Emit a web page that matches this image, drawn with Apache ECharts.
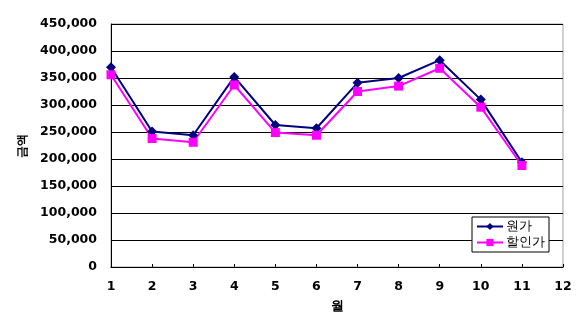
<!DOCTYPE html>
<html><head><meta charset="utf-8">
<script src="https://cdn.jsdelivr.net/npm/echarts@6/dist/echarts.min.js"></script>
<style>html,body{margin:0;padding:0;background:#fff}#c{width:580px;height:331px}</style>
</head><body><div id="c"></div>
<script>
const months = [1,2,3,4,5,6,7,8,9,10,11];
const costPrice = [370000,251000,244000,352000,263000,257000,341000,350000,383000,310000,194000];
const salePrice = [356000,238000,231000,337000,249000,244000,325000,335000,368000,296000,188000];
const seriesNames = ['원가','할인가'];
const xTitle = '월';
const yTitle = '금액';

const font = 'DejaVu Sans';
const chart = echarts.init(document.getElementById('c'), null, {renderer:'canvas'});
chart.setOption({
  animation:false,
  backgroundColor:'#fff',
  grid:{left:111,right:17,top:24,bottom:64,show:true,borderColor:'#a0a0a0',borderWidth:1,backgroundColor:'transparent'},
  xAxis:{type:'value',min:1,max:12,interval:1,
    name:xTitle,nameLocation:'middle',nameGap:33,
    nameTextStyle:{fontFamily:font,fontSize:13,fontWeight:'bold',color:'#000'},
    axisLine:{lineStyle:{color:'#000',width:1}},
    axisTick:{show:true,inside:true,length:3,lineStyle:{color:'#000'}},
    axisLabel:{margin:13,fontFamily:font,fontSize:12.5,fontWeight:'bold',color:'#000'},
    splitLine:{show:false}},
  yAxis:{type:'value',min:0,max:450000,interval:50000,
    name:yTitle,nameLocation:'middle',nameGap:82,nameRotate:90,
    nameTextStyle:{fontFamily:font,fontSize:12,fontWeight:'bold',color:'#000'},
    axisLine:{show:true,lineStyle:{color:'#000',width:1}},
    axisTick:{show:false},
    axisLabel:{margin:14,fontFamily:font,fontSize:12.5,fontWeight:'bold',color:'#000',
      formatter:v=>v.toLocaleString('en-US')},
    splitLine:{show:true,lineStyle:{color:'#000',width:1}}},
  legend:{orient:'vertical',left:472,top:217,
    backgroundColor:'#fff',borderColor:'#000',borderWidth:1,borderRadius:0,
    padding:[3,4,3,4],itemGap:3,itemWidth:26,itemHeight:9,
    textStyle:{fontFamily:font,fontSize:13,color:'#000',padding:[0,0,0,-2]},
    data:seriesNames},
  series:[
    {name:seriesNames[0],type:'line',data:months.map((m,i)=>[m,costPrice[i]]),
     symbol:'diamond',symbolSize:10,
     lineStyle:{color:'#000080',width:2},itemStyle:{color:'#000080'}},
    {name:seriesNames[1],type:'line',data:months.map((m,i)=>[m,salePrice[i]]),
     symbol:'rect',symbolSize:9,
     lineStyle:{color:'#ff00ff',width:2},itemStyle:{color:'#ff00ff'}}
  ]
});
</script></body></html>
